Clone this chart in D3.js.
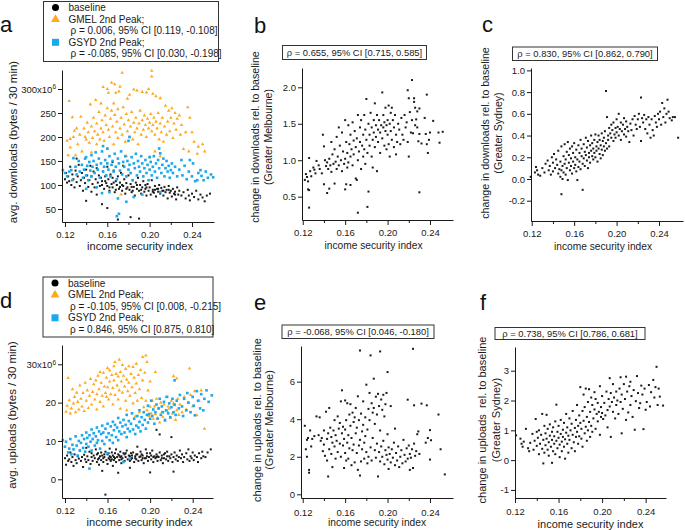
<!DOCTYPE html>
<html>
<head>
<meta charset="utf-8">
<script src="https://cdn.jsdelivr.net/npm/d3@7"></script>
<style>
  body { margin: 0; background: #fff; }
  svg { font-family: "Liberation Sans", Arial, sans-serif; background: #fff; }
  text { white-space: pre; }
</style>
</head>
<body>
<svg width="685" height="530"></svg>
<script>
// income security index ticks (shared by all panels)
const xTicks = [0.12, 0.16, 0.20, 0.24];
const xMinorTicks = [0.14, 0.18, 0.22];

// y tick values per panel
const yTicksA = [50, 100, 150, 200, 250, 300];
const yTicksB = [0.5, 1.0, 1.5, 2.0];
const yTicksC = [-0.2, 0.0, 0.2, 0.4, 0.6, 0.8, 1.0];
const yTicksD = [0, 10, 20, 30];
const yTicksE = [0, 2, 4, 6];
const yTicksF = [-1, 0, 1, 2, 3];

// a: avg downloads (x10^6 bytes / 30 min) vs income security index
const dlBaseline = [[0.120,112],[0.121,125],[0.122,105],[0.123,118],[0.124,108],[0.125,138],[0.126,100],[0.127,122],[0.128,112],[0.129,95],[0.130,130],[0.131,106],[0.131,155],[0.132,118],[0.133,142],[0.134,98],[0.135,110],[0.136,125],[0.137,88],[0.138,115],[0.139,104],[0.140,67],[0.140,132],[0.141,120],[0.142,96],[0.143,110],[0.144,140],[0.145,86],[0.145,118],[0.146,102],[0.147,128],[0.148,95],[0.149,112],[0.150,135],[0.150,80],[0.151,105],[0.152,120],[0.153,98],[0.154,115],[0.155,60],[0.155,108],[0.155,100],[0.156,128],[0.157,92],[0.158,118],[0.158,108],[0.159,104],[0.160,52],[0.160,138],[0.160,98],[0.161,112],[0.162,88],[0.162,95],[0.163,122],[0.164,102],[0.165,95],[0.165,115],[0.165,148],[0.166,130],[0.166,105],[0.167,85],[0.168,108],[0.168,90],[0.169,100],[0.170,28],[0.170,118],[0.171,92],[0.172,105],[0.172,96],[0.173,125],[0.174,88],[0.174,100],[0.175,98],[0.175,140],[0.176,112],[0.177,82],[0.178,104],[0.178,92],[0.179,95],[0.180,120],[0.181,90],[0.182,33],[0.182,102],[0.183,85],[0.183,96],[0.184,110],[0.184,88],[0.185,96],[0.186,78],[0.187,105],[0.188,92],[0.188,100],[0.189,115],[0.190,30],[0.190,88],[0.191,100],[0.192,82],[0.192,90],[0.193,95],[0.194,108],[0.195,86],[0.196,92],[0.196,100],[0.197,78],[0.197,95],[0.198,102],[0.199,88],[0.200,95],[0.201,80],[0.202,110],[0.203,90],[0.203,86],[0.204,84],[0.205,98],[0.205,90],[0.206,76],[0.207,92],[0.208,86],[0.208,92],[0.209,100],[0.210,82],[0.211,94],[0.212,88],[0.213,78],[0.213,88],[0.214,96],[0.215,85],[0.216,90],[0.217,72],[0.218,98],[0.218,90],[0.219,84],[0.220,88],[0.221,76],[0.222,92],[0.223,82],[0.224,86],[0.224,80],[0.225,70],[0.226,95],[0.227,80],[0.228,88],[0.230,78],[0.232,85],[0.234,72],[0.236,90],[0.237,78],[0.238,68],[0.240,82],[0.242,75],[0.244,88],[0.246,70],[0.248,80],[0.250,74],[0.252,66],[0.254,78],[0.257,82]];
const dlGMEL = [[0.122,192],[0.123,162],[0.124,275],[0.125,196],[0.125,178],[0.127,241],[0.128,200],[0.129,213],[0.130,162],[0.131,218],[0.132,185],[0.134,205],[0.135,242],[0.136,170],[0.138,218],[0.139,200],[0.140,195],[0.141,230],[0.142,210],[0.143,188],[0.144,268],[0.145,222],[0.145,168],[0.146,198],[0.147,240],[0.148,212],[0.149,277],[0.150,185],[0.150,228],[0.151,205],[0.152,252],[0.153,195],[0.154,270],[0.154,218],[0.155,235],[0.156,304],[0.156,210],[0.157,192],[0.158,245],[0.159,225],[0.160,300],[0.160,260],[0.160,175],[0.161,292],[0.161,215],[0.162,200],[0.163,238],[0.164,313],[0.164,255],[0.165,222],[0.166,185],[0.166,270],[0.167,310],[0.167,246],[0.168,292],[0.168,210],[0.169,232],[0.170,198],[0.170,258],[0.171,295],[0.172,305],[0.172,218],[0.173,240],[0.173,80],[0.174,334],[0.174,205],[0.175,262],[0.176,226],[0.177,190],[0.178,248],[0.178,160],[0.179,280],[0.179,212],[0.180,235],[0.181,288],[0.181,200],[0.182,222],[0.183,252],[0.184,195],[0.185,299],[0.185,230],[0.186,210],[0.187,240],[0.188,297],[0.188,218],[0.189,185],[0.190,228],[0.191,255],[0.192,205],[0.193,294],[0.193,235],[0.194,215],[0.195,245],[0.196,225],[0.197,293],[0.197,200],[0.198,238],[0.199,300],[0.199,218],[0.200,230],[0.200,158],[0.201,248],[0.202,338],[0.202,326],[0.202,212],[0.203,290],[0.203,225],[0.204,240],[0.205,205],[0.205,170],[0.206,285],[0.206,232],[0.207,218],[0.208,250],[0.209,195],[0.210,281],[0.210,228],[0.210,160],[0.211,210],[0.212,240],[0.213,190],[0.214,222],[0.215,265],[0.216,205],[0.217,232],[0.218,255],[0.219,212],[0.220,240],[0.221,260],[0.222,198],[0.223,228],[0.224,250],[0.225,215],[0.226,238],[0.228,245],[0.229,205],[0.230,225],[0.232,175],[0.234,210],[0.236,262],[0.237,170],[0.238,240],[0.240,210],[0.242,190],[0.245,165],[0.246,180],[0.250,185],[0.252,170]];
const dlGSYD = [[0.118,131],[0.120,125],[0.122,118],[0.124,128],[0.126,131],[0.127,110],[0.128,156],[0.130,138],[0.131,122],[0.133,150],[0.134,128],[0.136,142],[0.137,115],[0.138,132],[0.139,155],[0.140,158],[0.140,120],[0.140,92],[0.141,140],[0.142,110],[0.143,148],[0.144,130],[0.145,162],[0.145,118],[0.146,138],[0.147,150],[0.148,125],[0.149,168],[0.150,95],[0.150,142],[0.151,132],[0.152,155],[0.153,115],[0.154,145],[0.155,83],[0.155,170],[0.156,181],[0.156,128],[0.157,138],[0.158,152],[0.159,120],[0.160,176],[0.160,145],[0.161,132],[0.162,85],[0.162,160],[0.163,118],[0.164,142],[0.165,150],[0.166,128],[0.167,165],[0.168,138],[0.169,35],[0.169,112],[0.170,155],[0.170,72],[0.171,40],[0.171,145],[0.172,130],[0.173,170],[0.174,122],[0.175,148],[0.176,138],[0.177,160],[0.178,65],[0.178,118],[0.179,150],[0.180,192],[0.180,132],[0.181,200],[0.181,142],[0.182,125],[0.183,158],[0.184,110],[0.185,75],[0.185,145],[0.186,135],[0.187,165],[0.188,120],[0.189,150],[0.190,138],[0.191,128],[0.192,160],[0.193,80],[0.193,145],[0.194,118],[0.195,135],[0.196,152],[0.197,125],[0.198,142],[0.199,110],[0.200,158],[0.200,132],[0.201,148],[0.202,120],[0.203,138],[0.204,160],[0.205,128],[0.206,145],[0.207,115],[0.208,152],[0.209,176],[0.209,135],[0.210,85],[0.210,166],[0.211,125],[0.212,142],[0.213,155],[0.214,118],[0.215,135],[0.216,150],[0.217,128],[0.218,140],[0.219,115],[0.220,131],[0.221,145],[0.222,125],[0.224,138],[0.226,118],[0.228,132],[0.230,152],[0.231,120],[0.233,140],[0.235,112],[0.237,128],[0.238,152],[0.240,118],[0.241,145],[0.243,108],[0.245,110],[0.246,125],[0.248,131],[0.249,119],[0.251,110],[0.253,128],[0.255,115],[0.258,122],[0.260,116]];

// b, c: change in downloads rel. to baseline
const dlChangeGMEL = [[0.122,0.73],[0.123,0.81],[0.124,0.77],[0.125,0.71],[0.125,0.60],[0.126,1.03],[0.126,0.59],[0.126,0.35],[0.127,0.85],[0.128,0.78],[0.130,0.90],[0.131,0.87],[0.132,0.82],[0.133,0.99],[0.135,0.93],[0.136,0.88],[0.138,0.82],[0.139,1.35],[0.140,1.19],[0.140,0.67],[0.141,1.00],[0.142,0.92],[0.143,0.55],[0.143,0.97],[0.144,0.88],[0.145,0.61],[0.145,1.02],[0.146,0.93],[0.147,1.25],[0.147,0.84],[0.148,1.08],[0.149,0.95],[0.150,0.68],[0.150,1.15],[0.151,0.98],[0.152,1.32],[0.152,0.88],[0.153,1.05],[0.154,1.45],[0.154,0.93],[0.155,1.20],[0.156,1.00],[0.157,0.85],[0.157,1.38],[0.158,1.12],[0.159,0.95],[0.160,0.60],[0.160,1.55],[0.160,1.02],[0.161,0.67],[0.161,1.25],[0.162,0.90],[0.162,1.10],[0.163,1.48],[0.163,0.97],[0.164,1.22],[0.165,0.66],[0.165,1.05],[0.165,1.35],[0.166,1.15],[0.167,0.93],[0.167,1.52],[0.168,1.27],[0.168,1.08],[0.169,1.40],[0.170,0.75],[0.170,1.18],[0.171,0.73],[0.171,1.30],[0.172,0.28],[0.172,1.00],[0.172,1.62],[0.173,1.12],[0.174,1.45],[0.174,1.25],[0.175,0.88],[0.175,1.55],[0.176,1.20],[0.177,1.35],[0.177,1.05],[0.178,1.62],[0.178,1.15],[0.179,1.42],[0.179,0.95],[0.180,1.28],[0.180,1.84],[0.181,0.36],[0.181,1.10],[0.182,0.57],[0.182,1.50],[0.183,1.35],[0.183,1.20],[0.184,1.65],[0.185,1.05],[0.185,1.45],[0.186,1.28],[0.186,0.90],[0.187,1.55],[0.187,1.38],[0.188,1.78],[0.188,1.18],[0.189,1.48],[0.189,1.32],[0.190,1.62],[0.190,0.85],[0.191,1.42],[0.191,1.25],[0.192,1.55],[0.193,1.38],[0.193,1.10],[0.194,1.48],[0.195,1.93],[0.195,1.30],[0.196,1.62],[0.196,1.45],[0.197,1.20],[0.197,1.52],[0.198,1.40],[0.198,1.72],[0.199,1.48],[0.199,1.15],[0.200,1.55],[0.200,1.35],[0.201,1.75],[0.201,1.22],[0.202,1.50],[0.202,1.05],[0.203,1.65],[0.203,1.40],[0.204,1.72],[0.204,1.28],[0.205,1.55],[0.206,1.45],[0.206,1.18],[0.207,1.62],[0.208,1.35],[0.208,1.08],[0.209,1.25],[0.210,1.50],[0.211,1.42],[0.212,1.22],[0.213,1.58],[0.214,1.35],[0.215,1.28],[0.216,1.62],[0.217,1.45],[0.218,1.52],[0.219,1.96],[0.219,1.25],[0.220,1.85],[0.220,1.05],[0.221,1.66],[0.222,1.38],[0.223,1.55],[0.223,2.10],[0.224,1.37],[0.225,1.85],[0.225,1.80],[0.226,1.72],[0.226,1.48],[0.227,1.56],[0.228,1.67],[0.228,1.45],[0.229,1.26],[0.230,1.71],[0.230,1.36],[0.230,0.56],[0.232,1.23],[0.235,1.58],[0.236,1.36],[0.237,1.90],[0.237,1.22],[0.238,1.10],[0.239,1.28],[0.240,1.38],[0.243,1.54],[0.248,1.38],[0.249,1.24],[0.252,1.39]];
const dlChangeGSYD = [[0.119,0.02],[0.123,0.06],[0.124,0.11],[0.125,0.08],[0.126,0.04],[0.128,0.03],[0.130,0.10],[0.132,0.06],[0.133,0.14],[0.135,0.17],[0.136,0.08],[0.137,0.12],[0.138,0.04],[0.139,0.20],[0.140,0.15],[0.140,0.07],[0.141,0.23],[0.142,0.10],[0.143,0.18],[0.144,0.13],[0.145,0.05],[0.145,0.26],[0.146,0.09],[0.147,0.16],[0.147,0.02],[0.148,0.30],[0.148,0.08],[0.148,-0.14],[0.149,0.12],[0.149,0.00],[0.150,0.21],[0.150,0.06],[0.151,0.32],[0.151,0.14],[0.152,0.04],[0.152,0.18],[0.153,0.25],[0.153,0.10],[0.154,0.34],[0.154,-0.01],[0.155,0.15],[0.155,0.22],[0.156,0.08],[0.156,0.28],[0.157,0.12],[0.157,0.19],[0.158,0.30],[0.158,0.05],[0.159,0.16],[0.159,0.24],[0.160,0.10],[0.160,0.33],[0.161,0.20],[0.161,0.13],[0.162,0.27],[0.162,0.07],[0.163,-0.01],[0.163,0.18],[0.164,0.31],[0.164,0.11],[0.165,0.24],[0.165,0.16],[0.166,0.36],[0.166,0.09],[0.167,0.21],[0.167,0.28],[0.168,-0.10],[0.168,0.14],[0.169,0.32],[0.169,0.19],[0.170,0.25],[0.170,0.12],[0.171,0.38],[0.171,0.22],[0.172,0.17],[0.172,0.29],[0.173,0.10],[0.173,0.35],[0.174,0.24],[0.174,0.20],[0.175,0.31],[0.175,0.15],[0.176,0.40],[0.176,0.26],[0.177,0.21],[0.177,0.33],[0.178,0.18],[0.178,0.28],[0.179,0.36],[0.179,0.24],[0.180,0.41],[0.180,0.20],[0.181,0.30],[0.181,0.26],[0.182,0.34],[0.182,0.16],[0.183,0.40],[0.183,0.28],[0.184,0.23],[0.184,0.36],[0.185,0.31],[0.185,0.19],[0.186,0.42],[0.186,0.27],[0.187,0.35],[0.187,0.22],[0.188,0.30],[0.188,0.38],[0.189,0.26],[0.189,0.44],[0.190,0.81],[0.190,0.33],[0.191,0.57],[0.191,0.28],[0.192,0.40],[0.192,0.36],[0.193,0.47],[0.193,0.30],[0.194,0.42],[0.195,0.38],[0.195,0.50],[0.196,0.45],[0.197,0.35],[0.197,0.52],[0.198,0.41],[0.199,0.47],[0.199,0.38],[0.200,0.55],[0.200,0.43],[0.201,0.48],[0.202,0.60],[0.202,0.40],[0.203,0.46],[0.204,0.52],[0.204,0.36],[0.205,0.44],[0.206,0.50],[0.207,0.41],[0.207,0.56],[0.208,0.46],[0.209,0.39],[0.209,0.53],[0.210,0.48],[0.211,0.44],[0.212,0.34],[0.213,0.51],[0.214,0.45],[0.215,0.55],[0.216,0.40],[0.217,0.58],[0.218,0.50],[0.219,0.46],[0.220,0.55],[0.221,0.60],[0.222,0.48],[0.223,0.75],[0.223,0.35],[0.224,0.56],[0.225,0.52],[0.226,0.59],[0.227,0.46],[0.228,0.55],[0.229,0.42],[0.230,0.57],[0.231,0.50],[0.232,0.38],[0.233,0.55],[0.234,0.45],[0.235,0.40],[0.236,0.58],[0.237,0.52],[0.238,0.48],[0.239,0.60],[0.240,0.55],[0.241,0.62],[0.242,0.50],[0.243,0.70],[0.244,0.57],[0.245,0.65],[0.246,0.52],[0.247,0.60],[0.248,0.73],[0.249,0.62],[0.250,0.56],[0.252,0.54],[0.253,0.57],[0.255,0.57],[0.258,0.38]];

// d: avg uploads (x10^6 bytes / 30 min)
const ulBaseline = [[0.120,5.5],[0.121,3.8],[0.122,6.2],[0.123,4.8],[0.124,5.2],[0.125,7.0],[0.126,4.5],[0.127,5.8],[0.128,3.5],[0.129,6.5],[0.130,5.0],[0.131,4.2],[0.132,6.0],[0.133,5.4],[0.134,7.5],[0.135,4.8],[0.136,5.8],[0.137,3.2],[0.138,6.4],[0.139,5.2],[0.140,4.5],[0.140,8.2],[0.141,6.0],[0.142,5.0],[0.143,7.2],[0.144,4.0],[0.145,5.8],[0.145,6.8],[0.146,4.8],[0.147,6.2],[0.148,5.5],[0.149,7.8],[0.150,4.5],[0.150,6.5],[0.151,5.2],[0.151,6.8],[0.152,3.8],[0.152,5.5],[0.153,6.0],[0.154,7.0],[0.154,5.0],[0.155,2.2],[0.155,6.2],[0.156,4.5],[0.156,5.5],[0.157,5.8],[0.157,6.5],[0.158,-4.0],[0.158,7.2],[0.159,5.0],[0.160,6.5],[0.160,4.0],[0.161,5.5],[0.161,6.8],[0.162,8.0],[0.162,6.0],[0.162,5.2],[0.163,4.8],[0.163,5.8],[0.164,7.0],[0.164,5.2],[0.165,3.5],[0.165,6.2],[0.166,5.0],[0.166,5.8],[0.167,6.8],[0.167,5.5],[0.168,7.8],[0.168,4.5],[0.169,5.8],[0.170,1.7],[0.170,6.5],[0.171,5.0],[0.171,6.2],[0.172,7.2],[0.172,5.8],[0.173,4.2],[0.173,6.0],[0.173,5.2],[0.174,5.5],[0.175,6.8],[0.176,4.8],[0.176,6.5],[0.177,5.8],[0.177,6.8],[0.178,7.5],[0.179,5.2],[0.180,6.2],[0.181,3.0],[0.181,4.8],[0.181,6.0],[0.182,6.8],[0.182,5.2],[0.183,5.5],[0.183,6.2],[0.184,7.0],[0.185,4.5],[0.186,6.0],[0.186,5.5],[0.187,5.2],[0.187,6.5],[0.188,8.5],[0.188,6.5],[0.189,4.8],[0.190,5.8],[0.191,7.2],[0.191,6.0],[0.192,5.0],[0.192,6.5],[0.193,6.2],[0.193,5.5],[0.194,4.2],[0.195,5.5],[0.196,7.8],[0.196,5.5],[0.197,6.0],[0.197,6.8],[0.198,4.8],[0.199,5.8],[0.200,1.8],[0.200,6.8],[0.201,5.2],[0.201,6.2],[0.202,7.5],[0.203,4.5],[0.203,5.8],[0.204,6.0],[0.205,5.5],[0.206,12.9],[0.206,6.5],[0.206,5.8],[0.207,4.8],[0.207,6.0],[0.208,5.8],[0.209,11.7],[0.209,7.0],[0.210,5.0],[0.211,6.2],[0.211,5.5],[0.212,4.2],[0.213,5.5],[0.213,6.5],[0.214,6.8],[0.215,5.2],[0.216,7.2],[0.216,6.0],[0.217,4.8],[0.218,6.0],[0.219,5.5],[0.220,11.0],[0.220,6.5],[0.221,4.5],[0.222,2.0],[0.222,5.8],[0.223,7.0],[0.224,5.2],[0.225,6.2],[0.226,4.8],[0.227,5.8],[0.228,7.5],[0.229,5.5],[0.230,6.5],[0.231,4.5],[0.232,5.8],[0.234,6.8],[0.235,5.2],[0.236,7.8],[0.237,4.8],[0.238,6.0],[0.239,5.5],[0.240,7.0],[0.241,5.0],[0.242,6.2],[0.244,5.8],[0.245,4.5],[0.246,6.8],[0.248,5.5],[0.249,7.2],[0.250,6.0],[0.252,5.8],[0.254,7.0],[0.257,7.8]];
const ulGMEL = [[0.121,17.6],[0.122,19.2],[0.123,26.4],[0.124,20.6],[0.125,17.2],[0.126,18.5],[0.127,23.5],[0.128,19.8],[0.129,21.5],[0.130,17.5],[0.131,22.6],[0.132,20.2],[0.133,18.2],[0.134,24.5],[0.135,21.0],[0.136,19.0],[0.137,22.5],[0.138,17.8],[0.139,25.2],[0.140,20.5],[0.141,23.2],[0.142,18.6],[0.143,21.8],[0.144,26.2],[0.145,19.5],[0.146,22.8],[0.147,24.8],[0.148,20.8],[0.149,25.8],[0.150,18.2],[0.150,22.2],[0.151,27.0],[0.152,23.5],[0.153,28.0],[0.153,20.2],[0.154,25.2],[0.155,21.8],[0.156,27.8],[0.156,19.0],[0.157,24.2],[0.158,22.5],[0.159,26.5],[0.159,21.5],[0.160,29.0],[0.160,24.0],[0.161,20.8],[0.162,28.4],[0.162,25.5],[0.163,22.2],[0.164,27.2],[0.165,23.8],[0.165,19.5],[0.166,29.5],[0.166,25.8],[0.167,30.6],[0.167,22.0],[0.168,27.5],[0.169,24.5],[0.170,26.8],[0.170,20.8],[0.171,31.2],[0.171,23.2],[0.172,18.4],[0.172,28.0],[0.173,25.5],[0.174,29.8],[0.174,22.6],[0.175,27.0],[0.176,24.2],[0.177,20.5],[0.177,28.8],[0.178,18.0],[0.178,26.0],[0.179,23.0],[0.180,29.5],[0.180,25.2],[0.181,21.8],[0.182,27.5],[0.183,24.0],[0.184,29.3],[0.184,19.8],[0.185,26.5],[0.186,16.4],[0.186,22.5],[0.187,30.1],[0.187,25.0],[0.188,20.5],[0.189,27.2],[0.190,23.5],[0.190,17.5],[0.191,28.5],[0.192,21.2],[0.193,31.9],[0.193,25.8],[0.194,18.8],[0.195,27.8],[0.196,32.3],[0.196,20.5],[0.197,30.6],[0.197,18.0],[0.198,23.2],[0.199,16.5],[0.200,18.9],[0.200,25.5],[0.201,17.2],[0.202,20.5],[0.203,15.8],[0.204,19.0],[0.205,28.0],[0.205,17.0],[0.206,21.0],[0.207,16.0],[0.208,18.5],[0.209,14.8],[0.210,20.0],[0.211,17.5],[0.212,16.3],[0.213,19.5],[0.214,15.2],[0.215,21.5],[0.216,17.8],[0.217,19.0],[0.218,18.4],[0.219,16.0],[0.220,20.5],[0.221,17.2],[0.222,26.9],[0.222,19.8],[0.223,19.3],[0.224,15.5],[0.225,26.3],[0.225,18.0],[0.226,21.0],[0.227,16.8],[0.228,19.5],[0.230,17.5],[0.232,21.5],[0.234,18.2],[0.236,20.0],[0.237,28.9],[0.238,22.0],[0.240,19.0],[0.242,23.0],[0.244,16.7],[0.246,20.5],[0.248,23.2],[0.251,13.2]];
const ulGSYD = [[0.118,10.2],[0.120,8.5],[0.121,9.8],[0.123,7.0],[0.124,8.0],[0.125,10.5],[0.126,6.5],[0.127,9.0],[0.128,7.8],[0.130,11.2],[0.131,8.8],[0.132,6.2],[0.133,10.0],[0.134,7.5],[0.135,9.5],[0.136,11.5],[0.137,8.2],[0.138,10.5],[0.139,7.2],[0.140,12.2],[0.140,9.2],[0.141,10.8],[0.142,8.5],[0.143,2.8],[0.143,11.5],[0.144,9.8],[0.145,13.0],[0.145,7.5],[0.146,10.5],[0.147,12.0],[0.148,8.8],[0.149,11.2],[0.150,9.5],[0.150,13.5],[0.151,10.2],[0.152,12.5],[0.153,8.0],[0.154,11.8],[0.155,10.0],[0.155,14.0],[0.156,12.2],[0.157,9.2],[0.158,13.2],[0.159,11.0],[0.160,14.5],[0.160,6.8],[0.161,12.0],[0.162,10.2],[0.163,13.8],[0.164,11.5],[0.165,15.0],[0.165,9.5],[0.166,12.8],[0.167,14.2],[0.168,11.0],[0.169,13.5],[0.170,16.0],[0.170,10.2],[0.171,12.5],[0.172,14.8],[0.173,11.8],[0.174,13.8],[0.175,4.5],[0.175,15.5],[0.176,12.2],[0.177,14.2],[0.178,16.8],[0.178,11.0],[0.179,13.2],[0.180,15.2],[0.181,5.4],[0.181,12.5],[0.182,14.5],[0.183,17.2],[0.184,13.0],[0.185,15.8],[0.186,11.8],[0.187,14.0],[0.188,16.5],[0.189,13.5],[0.190,18.0],[0.190,15.0],[0.191,12.5],[0.192,16.2],[0.193,14.2],[0.194,17.5],[0.195,15.5],[0.196,13.2],[0.197,16.8],[0.198,19.2],[0.198,14.8],[0.199,17.0],[0.200,15.8],[0.201,20.5],[0.202,16.5],[0.203,18.2],[0.204,14.5],[0.205,17.5],[0.206,19.5],[0.207,15.8],[0.208,18.5],[0.209,21.0],[0.210,16.8],[0.211,19.0],[0.212,17.5],[0.213,20.2],[0.214,15.5],[0.215,18.0],[0.216,21.5],[0.217,17.2],[0.218,19.8],[0.219,16.2],[0.220,18.8],[0.221,21.0],[0.222,17.5],[0.223,25.8],[0.223,19.5],[0.224,16.8],[0.225,20.5],[0.227,18.5],[0.228,22.0],[0.230,19.0],[0.231,16.5],[0.232,21.0],[0.234,18.0],[0.235,22.5],[0.236,20.0],[0.238,17.5],[0.240,21.5],[0.241,19.2],[0.242,16.7],[0.244,23.0],[0.245,20.5],[0.247,18.5],[0.248,22.2],[0.250,18.0],[0.251,21.0],[0.253,23.2],[0.255,20.2],[0.258,21.9]];

// e, f: change in uploads rel. to baseline
const ulChangeGMEL = [[0.122,3.65],[0.123,2.40],[0.124,2.90],[0.124,2.00],[0.125,3.00],[0.126,1.30],[0.126,1.15],[0.127,3.40],[0.128,2.55],[0.129,2.95],[0.131,3.10],[0.133,4.15],[0.135,3.15],[0.136,4.10],[0.137,2.85],[0.138,3.00],[0.139,2.30],[0.140,2.65],[0.140,3.40],[0.141,2.05],[0.142,4.40],[0.143,1.80],[0.143,2.95],[0.144,0.95],[0.144,3.25],[0.145,2.40],[0.145,4.60],[0.146,3.55],[0.147,2.15],[0.147,3.05],[0.148,1.45],[0.148,2.75],[0.149,3.40],[0.150,2.55],[0.150,3.95],[0.151,1.90],[0.151,3.15],[0.152,2.85],[0.153,4.15],[0.153,2.25],[0.154,3.50],[0.155,2.70],[0.155,3.80],[0.156,2.00],[0.156,4.95],[0.157,5.54],[0.157,3.25],[0.158,2.60],[0.158,3.60],[0.159,1.40],[0.159,2.95],[0.160,5.00],[0.160,3.45],[0.160,2.20],[0.161,1.80],[0.161,3.95],[0.162,2.75],[0.162,4.85],[0.163,3.15],[0.163,1.90],[0.164,4.25],[0.164,2.45],[0.165,3.65],[0.165,4.80],[0.166,1.55],[0.166,3.00],[0.167,2.35],[0.167,4.35],[0.168,3.85],[0.168,2.65],[0.169,4.10],[0.169,1.70],[0.170,3.25],[0.170,4.60],[0.171,2.20],[0.171,3.55],[0.172,5.22],[0.172,1.30],[0.173,2.60],[0.173,3.95],[0.174,7.66],[0.174,1.00],[0.174,2.90],[0.175,4.30],[0.175,1.75],[0.176,3.35],[0.176,2.40],[0.177,3.70],[0.177,4.95],[0.178,1.90],[0.178,2.75],[0.179,3.10],[0.179,4.10],[0.180,5.84],[0.180,2.25],[0.181,1.65],[0.181,3.45],[0.182,4.55],[0.182,2.00],[0.183,5.40],[0.183,3.95],[0.184,7.40],[0.184,2.50],[0.185,4.85],[0.185,1.80],[0.186,4.35],[0.186,3.00],[0.187,6.16],[0.187,4.60],[0.188,2.35],[0.188,3.75],[0.189,5.20],[0.189,1.95],[0.190,4.25],[0.190,2.70],[0.191,0.95],[0.191,5.35],[0.192,4.70],[0.192,2.25],[0.193,7.61],[0.193,3.40],[0.193,1.75],[0.194,5.05],[0.194,2.55],[0.195,4.50],[0.195,2.00],[0.196,5.30],[0.196,2.85],[0.197,4.15],[0.197,1.60],[0.198,4.80],[0.198,2.35],[0.199,5.40],[0.199,2.10],[0.200,6.51],[0.200,1.85],[0.200,3.20],[0.201,2.50],[0.201,1.35],[0.202,2.15],[0.203,4.70],[0.203,1.70],[0.204,2.40],[0.205,1.95],[0.206,2.75],[0.207,1.55],[0.207,3.50],[0.208,2.20],[0.209,1.80],[0.210,2.55],[0.211,1.45],[0.212,2.00],[0.213,2.35],[0.214,1.65],[0.215,2.90],[0.216,2.10],[0.217,1.75],[0.218,2.45],[0.219,5.04],[0.219,1.90],[0.220,2.60],[0.221,1.30],[0.221,2.15],[0.222,1.95],[0.223,2.40],[0.224,7.75],[0.224,1.40],[0.225,4.74],[0.225,2.70],[0.226,2.05],[0.227,2.30],[0.228,3.20],[0.229,3.35],[0.230,2.15],[0.232,4.83],[0.236,2.75],[0.237,4.74],[0.238,3.00],[0.240,3.42],[0.240,1.85],[0.241,2.88],[0.248,4.25],[0.250,2.40],[0.254,1.06]];
const ulChangeGSYD = [[0.121,0.83],[0.125,0.72],[0.126,0.55],[0.127,0.45],[0.128,0.62],[0.130,1.05],[0.132,0.40],[0.133,0.30],[0.134,0.58],[0.136,0.88],[0.137,0.35],[0.138,0.65],[0.139,1.38],[0.140,0.95],[0.140,0.48],[0.141,0.75],[0.142,0.20],[0.142,1.00],[0.143,0.55],[0.144,0.85],[0.145,1.55],[0.145,0.38],[0.146,-0.11],[0.146,0.68],[0.147,1.15],[0.147,0.25],[0.148,0.90],[0.148,0.50],[0.149,1.52],[0.149,0.72],[0.150,0.35],[0.150,1.05],[0.151,0.60],[0.151,0.15],[0.152,0.82],[0.152,1.20],[0.153,0.45],[0.154,-0.09],[0.154,0.95],[0.154,0.68],[0.155,0.30],[0.155,1.10],[0.156,0.55],[0.156,0.80],[0.157,1.30],[0.157,0.20],[0.158,1.86],[0.158,0.65],[0.159,0.95],[0.159,0.40],[0.160,0.75],[0.160,1.15],[0.161,0.52],[0.161,0.10],[0.162,0.88],[0.162,1.35],[0.163,0.62],[0.163,0.30],[0.164,1.02],[0.164,0.78],[0.165,0.45],[0.165,1.25],[0.166,0.70],[0.166,0.05],[0.167,0.92],[0.167,1.55],[0.168,0.55],[0.168,1.10],[0.169,0.82],[0.169,0.25],[0.170,1.40],[0.170,0.68],[0.171,1.00],[0.172,0.40],[0.172,1.22],[0.173,0.85],[0.173,1.65],[0.174,0.60],[0.175,1.08],[0.175,0.30],[0.176,1.35],[0.176,0.78],[0.177,1.85],[0.177,0.95],[0.178,1.15],[0.178,0.55],[0.179,1.50],[0.179,0.80],[0.180,2.45],[0.180,1.25],[0.181,0.72],[0.181,1.05],[0.182,1.65],[0.182,0.45],[0.183,2.20],[0.183,1.32],[0.184,0.90],[0.184,1.78],[0.185,1.12],[0.185,2.40],[0.186,0.65],[0.186,1.45],[0.187,1.95],[0.187,1.00],[0.188,2.38],[0.188,1.28],[0.189,0.78],[0.189,1.62],[0.190,2.10],[0.190,1.15],[0.191,1.85],[0.191,0.95],[0.192,1.40],[0.193,2.28],[0.193,1.70],[0.194,1.05],[0.194,2.05],[0.195,1.55],[0.196,1.30],[0.196,1.92],[0.197,1.62],[0.198,2.48],[0.198,0.85],[0.199,1.45],[0.199,1.78],[0.200,2.15],[0.200,1.58],[0.201,1.38],[0.202,1.92],[0.203,1.50],[0.204,2.30],[0.205,1.68],[0.205,1.10],[0.206,2.05],[0.207,2.75],[0.207,1.80],[0.208,0.78],[0.208,2.25],[0.209,1.95],[0.210,2.55],[0.210,1.62],[0.211,2.10],[0.212,1.40],[0.213,2.30],[0.213,1.85],[0.214,2.00],[0.215,1.55],[0.216,2.40],[0.217,2.78],[0.217,1.95],[0.218,0.90],[0.218,2.20],[0.219,1.72],[0.220,2.55],[0.221,2.05],[0.222,2.80],[0.222,1.35],[0.223,2.30],[0.224,1.60],[0.225,2.48],[0.226,2.63],[0.226,1.85],[0.227,2.15],[0.228,1.45],[0.229,2.35],[0.230,1.02],[0.231,1.98],[0.232,2.82],[0.233,2.25],[0.234,1.75],[0.235,1.91],[0.236,2.50],[0.237,2.20],[0.238,1.04],[0.239,2.40],[0.240,1.69],[0.241,1.95],[0.243,2.52],[0.244,1.80],[0.245,2.28],[0.247,2.69],[0.248,2.10],[0.249,2.45],[0.250,3.13],[0.251,1.85],[0.252,2.40],[0.253,2.13],[0.256,1.83]];

// correlation annotations
const legendA = ['baseline', 'GMEL 2nd Peak;', 'ρ = 0.006, 95% CI [0.119, -0.108]', 'GSYD 2nd Peak;', 'ρ = -0.085, 95% CI [0.030, -0.198]'];
const legendD = ['baseline', 'GMEL 2nd Peak;', 'ρ = -0.105, 95% CI [0.008, -0.215]', 'GSYD 2nd Peak;', 'ρ = 0.846, 95% CI [0.875, 0.810]'];
const titleB = 'ρ = 0.655, 95% CI [0.715, 0.585]';
const titleC = 'ρ = 0.830, 95% CI [0.862, 0.790]';
const titleE = 'ρ = -0.068, 95% CI [0.046, -0.180]';
const titleF = 'ρ = 0.738, 95% CI [0.786, 0.681]';

const ORANGE = '#FFA91C';
const BLUE = '#1BA8EC';
const INK = '#1a1a1a';

const svg = d3.select('svg');

const markers = {
  dot: { color: INK, size: 2, shape: 'square' },
  orange: { color: ORANGE, size: 5.5, shape: 'triangle' },
  blue: { color: BLUE, size: 2.6, shape: 'square' },
};

const fixed = (n) => (d) => d.toFixed(n);

const drawPanel = (p) => {
  const x = d3.scaleLinear().domain(p.xDomain).range([p.left, p.right]);
  const y = d3.scaleLinear().domain(p.yDomain).range([p.bottom, p.top]);
  const g = svg.append('g');

  // points
  p.series.forEach((s) => {
    const m = markers[s.marker];
    if (m.shape === 'square') {
      g.append('g').selectAll('rect')
        .data(s.data).enter()
        .append('rect')
        .attr('x', (d) => x(d[0]) - m.size / 2)
        .attr('y', (d) => y(d[1]) - m.size / 2)
        .attr('width', m.size)
        .attr('height', m.size)
        .attr('fill', m.color);
    } else {
      const tri = d3.symbol(d3.symbolTriangle, m.size);
      g.append('g').selectAll('path')
        .data(s.data).enter()
        .append('path')
        .attr('d', tri)
        .attr('transform', (d) => `translate(${x(d[0])},${y(d[1])})`)
        .attr('fill', m.color);
    }
  });

  // axes
  const xAxis = g.append('g')
    .attr('transform', `translate(0,${p.bottom})`)
    .call(d3.axisBottom(x).tickValues(xTicks).tickFormat(fixed(2))
      .tickSize(5).tickSizeOuter(0).tickPadding(p.xPad));
  g.append('g')
    .attr('transform', `translate(0,${p.bottom})`)
    .call(d3.axisBottom(x).tickValues(xMinorTicks).tickFormat('')
      .tickSize(3).tickSizeOuter(0))
    .call((ax) => ax.select('.domain').remove())
    .selectAll('line').attr('stroke', INK);
  const yAxis = g.append('g')
    .attr('transform', `translate(${p.left},0)`)
    .call(d3.axisLeft(y).tickValues(p.yTicks).tickFormat(p.yFormat)
      .tickSize(4).tickSizeOuter(0).tickPadding(2));

  [xAxis, yAxis].forEach((ax) => {
    ax.selectAll('path, line').attr('stroke', INK);
    ax.selectAll('text').attr('fill', INK).attr('font-size', 9.5)
      .attr('font-family', '"Liberation Sans", Arial, sans-serif');
  });

  // x10^6 multiplier on the top tick
  if (p.expTick !== undefined) {
    const t = yAxis.selectAll('.tick').filter((d) => d === p.expTick).select('text');
    t.text(`${p.expTick}x10`);
    t.append('tspan').attr('dy', '-0.5em').attr('font-size', 6.5).text('6');
  }

  // axis titles
  g.append('text')
    .attr('x', (p.left + p.right) / 2 + p.xTitleShift)
    .attr('y', p.xTitleY)
    .attr('text-anchor', 'middle')
    .attr('font-size', p.xTitleSize)
    .attr('fill', INK)
    .text('income security index');

  p.yTitle.forEach((line, i) => {
    g.append('text')
      .attr('transform', `translate(${p.yTitleX[i]},${p.yTitleY}) rotate(-90)`)
      .attr('text-anchor', 'middle')
      .attr('font-size', p.yTitleSize)
      .attr('fill', INK)
      .text(line);
  });

  // panel letter
  svg.append('text')
    .attr('x', p.letter[1])
    .attr('y', p.letter[2])
    .attr('font-size', 22)
    .attr('fill', '#111')
    .text(p.letter[0]);

  // correlation box above the plot
  if (p.title) {
    const [bx, by, bw, bh] = p.titleBox;
    svg.append('rect')
      .attr('x', bx).attr('y', by).attr('width', bw).attr('height', bh)
      .attr('fill', 'none').attr('stroke', '#333').attr('stroke-width', 1);
    svg.append('text')
      .attr('x', bx + bw / 2)
      .attr('y', by + bh / 2 + 3.5)
      .attr('text-anchor', 'middle')
      .attr('font-size', 9.4)
      .attr('fill', INK)
      .text(p.title);
  }

  // legend box
  if (p.legend) {
    const [bx, by, bw, bh] = p.legendBox;
    svg.append('rect')
      .attr('x', bx).attr('y', by).attr('width', bw).attr('height', bh)
      .attr('fill', 'none').attr('stroke', '#333').attr('stroke-width', 1);
    const rowH = 11.6;
    const base = by + 9.5;
    p.legend.forEach((line, i) => {
      svg.append('text')
        .attr('x', line.startsWith('ρ') ? bx + 27 : bx + 25)
        .attr('y', base + i * rowH)
        .attr('font-size', 10)
        .attr('fill', INK)
        .text(line);
    });
    const mx = bx + 12;
    svg.append('circle').attr('cx', mx).attr('cy', base - 3.5).attr('r', 3.5).attr('fill', '#000');
    svg.append('path')
      .attr('d', d3.symbol(d3.symbolTriangle, 34)())
      .attr('transform', `translate(${mx},${base + rowH - 3.2})`)
      .attr('fill', ORANGE);
    svg.append('rect')
      .attr('x', mx - 3.5).attr('y', base + 3 * rowH - 7)
      .attr('width', 7).attr('height', 7)
      .attr('fill', BLUE);
  }
};

const panels = [
  {
    letter: ['a', 0, 32],
    left: 62, right: 214, top: 70, bottom: 222,
    xDomain: [0.1172, 0.2608], yDomain: [22.9, 339.6],
    yTicks: yTicksA, yFormat: (d) => d, expTick: 300,
    series: [{ data: dlBaseline, marker: 'dot' }, { data: dlGMEL, marker: 'orange' }, { data: dlGSYD, marker: 'blue' }],
    xPad: 4, xTitleY: 250, xTitleSize: 11, xTitleShift: 2,
    yTitle: ['avg. downloads (bytes / 30 min)'], yTitleX: [17], yTitleY: 142, yTitleSize: 11.5,
    legend: legendA, legendBox: [43.5, 1.5, 175, 60],
  },
  {
    letter: ['b', 254, 33],
    left: 302, right: 453, top: 68, bottom: 220,
    xDomain: [0.1193, 0.2617], yDomain: [0.18, 2.265],
    yTicks: yTicksB, yFormat: fixed(1),
    series: [{ data: dlChangeGMEL, marker: 'dot' }],
    xPad: 4, xTitleY: 249, xTitleSize: 10.2, xTitleShift: -4,
    yTitle: ['change in downloads rel. to baseline', '(Greater Melbourne)'], yTitleX: [259, 272], yTitleY: 137, yTitleSize: 10.6,
    title: titleB, titleBox: [282.5, 45.5, 144, 14],
  },
  {
    letter: ['c', 482, 32],
    left: 531, right: 683, top: 68, bottom: 221,
    xDomain: [0.1193, 0.2626], yDomain: [-0.387, 1.022],
    yTicks: yTicksC, yFormat: fixed(1),
    series: [{ data: dlChangeGSYD, marker: 'dot' }],
    xPad: 4, xTitleY: 250, xTitleSize: 10.2, xTitleShift: -4,
    yTitle: ['change in downloads rel. to baseline', '(Greater Sydney)'], yTitleX: [489, 502], yTitleY: 133, yTitleSize: 10.6,
    title: titleC, titleBox: [512.5, 47, 145, 13.5],
  },
  {
    letter: ['d', 0, 308],
    left: 62, right: 213, top: 345, bottom: 498,
    xDomain: [0.1172, 0.2591], yDomain: [-4.88, 35.03],
    yTicks: yTicksD, yFormat: (d) => d, expTick: 30,
    series: [{ data: ulBaseline, marker: 'dot' }, { data: ulGMEL, marker: 'orange' }, { data: ulGSYD, marker: 'blue' }],
    xPad: 4, xTitleY: 526, xTitleSize: 11, xTitleShift: 2,
    yTitle: ['avg. uploads (bytes / 30 min)'], yTitleX: [16], yTitleY: 415, yTitleSize: 11.5,
    legend: legendD, legendBox: [43, 277, 170, 60],
  },
  {
    letter: ['e', 254, 310],
    left: 301, right: 453, top: 346, bottom: 498,
    xDomain: [0.1184, 0.2617], yDomain: [-0.197, 7.9],
    yTicks: yTicksE, yFormat: (d) => d,
    series: [{ data: ulChangeGMEL, marker: 'dot' }],
    xPad: 6, xTitleY: 526, xTitleSize: 10.2, xTitleShift: 0,
    yTitle: ['change in uploads rel. to baseline', '(Greater Melbourne)'], yTitleX: [261, 273], yTitleY: 420, yTitleSize: 11,
    title: titleE, titleBox: [282, 325, 152, 13.5],
  },
  {
    letter: ['f', 480, 310],
    left: 515, right: 666, top: 347, bottom: 498,
    xDomain: [0.12, 0.2587], yDomain: [-1.27, 3.795],
    yTicks: yTicksF, yFormat: (d) => d,
    series: [{ data: ulChangeGSYD, marker: 'dot' }],
    xPad: 5, xTitleY: 528, xTitleSize: 11, xTitleShift: 0,
    yTitle: ['change in uploads  rel. to baseline', '(Greater Sydney)'], yTitleX: [486, 500], yTitleY: 420, yTitleSize: 11,
    title: titleF, titleBox: [495, 327.5, 150, 12],
  },
];

panels.forEach(drawPanel);
</script>
</body>
</html>
